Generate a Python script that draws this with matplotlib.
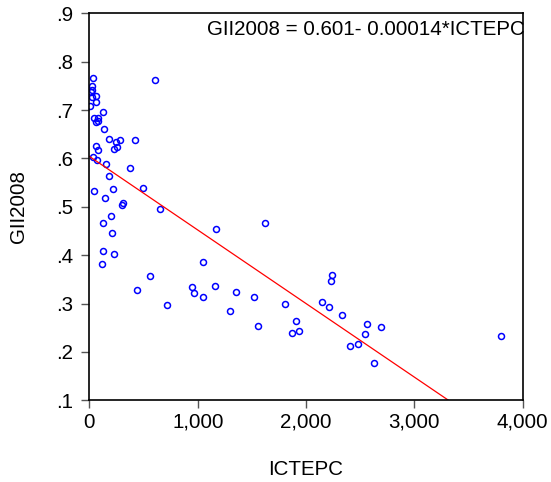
import matplotlib
matplotlib.use("Agg")
import matplotlib.pyplot as plt
from matplotlib.ticker import FuncFormatter
import numpy as np

plt.rcParams['font.family'] = ['Liberation Sans', 'DejaVu Sans']

# ICT expenditure per capita vs GII 2008
ictepc = [32, 605, 26, 26, 14, 60, 26, 57, 7, 127,
          39, 81, 60, 76, 131, 180, 248, 279, 420, 224,
          254, 57, 81, 35, 72, 155, 371, 177, 494, 39,
          214, 143, 309, 297, 648, 199, 125, 205, 125, 229,
          115, 1166, 1619, 1048, 561, 443, 719, 944, 965, 1050,
          1155, 1353, 1517, 1295, 1809, 1554, 1908, 2151, 2212, 1871,
          1935, 2243, 2234, 2333, 2566, 2693, 2542, 2407, 2478, 2631,
          3801]
gii2008 = [0.766, 0.762, 0.750, 0.741, 0.737, 0.730, 0.726, 0.716, 0.708, 0.695,
           0.683, 0.683, 0.675, 0.677, 0.661, 0.640, 0.634, 0.637, 0.637, 0.619,
           0.624, 0.626, 0.617, 0.602, 0.597, 0.589, 0.580, 0.564, 0.539, 0.533,
           0.537, 0.518, 0.508, 0.504, 0.496, 0.481, 0.466, 0.446, 0.409, 0.402,
           0.381, 0.454, 0.467, 0.385, 0.356, 0.329, 0.296, 0.334, 0.321, 0.314,
           0.336, 0.324, 0.314, 0.284, 0.299, 0.254, 0.263, 0.304, 0.292, 0.240,
           0.244, 0.359, 0.347, 0.277, 0.258, 0.252, 0.238, 0.213, 0.216, 0.178,
           0.232]

# fitted line as drawn
intercept = 0.604
slope = -0.000152

fs = 14.8

fig = plt.figure(figsize=(5.51, 4.82), dpi=100)
ax = fig.add_axes([0.1624, 0.1695, 0.786, 0.803])

ax.plot(ictepc, gii2008, 'o', mfc='none', mec='#0000ff', ms=4.3, mew=1.1)

xs = np.array([0, 4000])
ax.plot(xs, intercept + slope * xs, color='red', lw=0.9)

ax.set_xlim(0, 4000)
ax.set_ylim(0.1, 0.9)
ax.set_xticks([0, 1000, 2000, 3000, 4000])
ax.set_yticks([0.1, 0.2, 0.3, 0.4, 0.5, 0.6, 0.7, 0.8, 0.9])
ax.xaxis.set_major_formatter(FuncFormatter(lambda v, p: f"{v:,.0f}"))
ax.yaxis.set_major_formatter(FuncFormatter(lambda v, p: f"{v:.1f}".lstrip('0')))
ax.tick_params(direction='out', length=6, width=1, labelsize=fs, color='#555555')
ax.tick_params(axis='y', pad=6)
ax.tick_params(axis='x', pad=3)
for s in ax.spines.values():
    s.set_linewidth(1.2)

ax.set_xlabel("ICTEPC", fontsize=fs, labelpad=20)
ax.set_ylabel("GII2008", fontsize=fs, labelpad=20)

ax.text(1.004, 0.957, "GII2008 = 0.601- 0.00014*ICTEPC", transform=ax.transAxes,
        ha='right', va='center', fontsize=fs)

fig.savefig("out.png", dpi=100)
